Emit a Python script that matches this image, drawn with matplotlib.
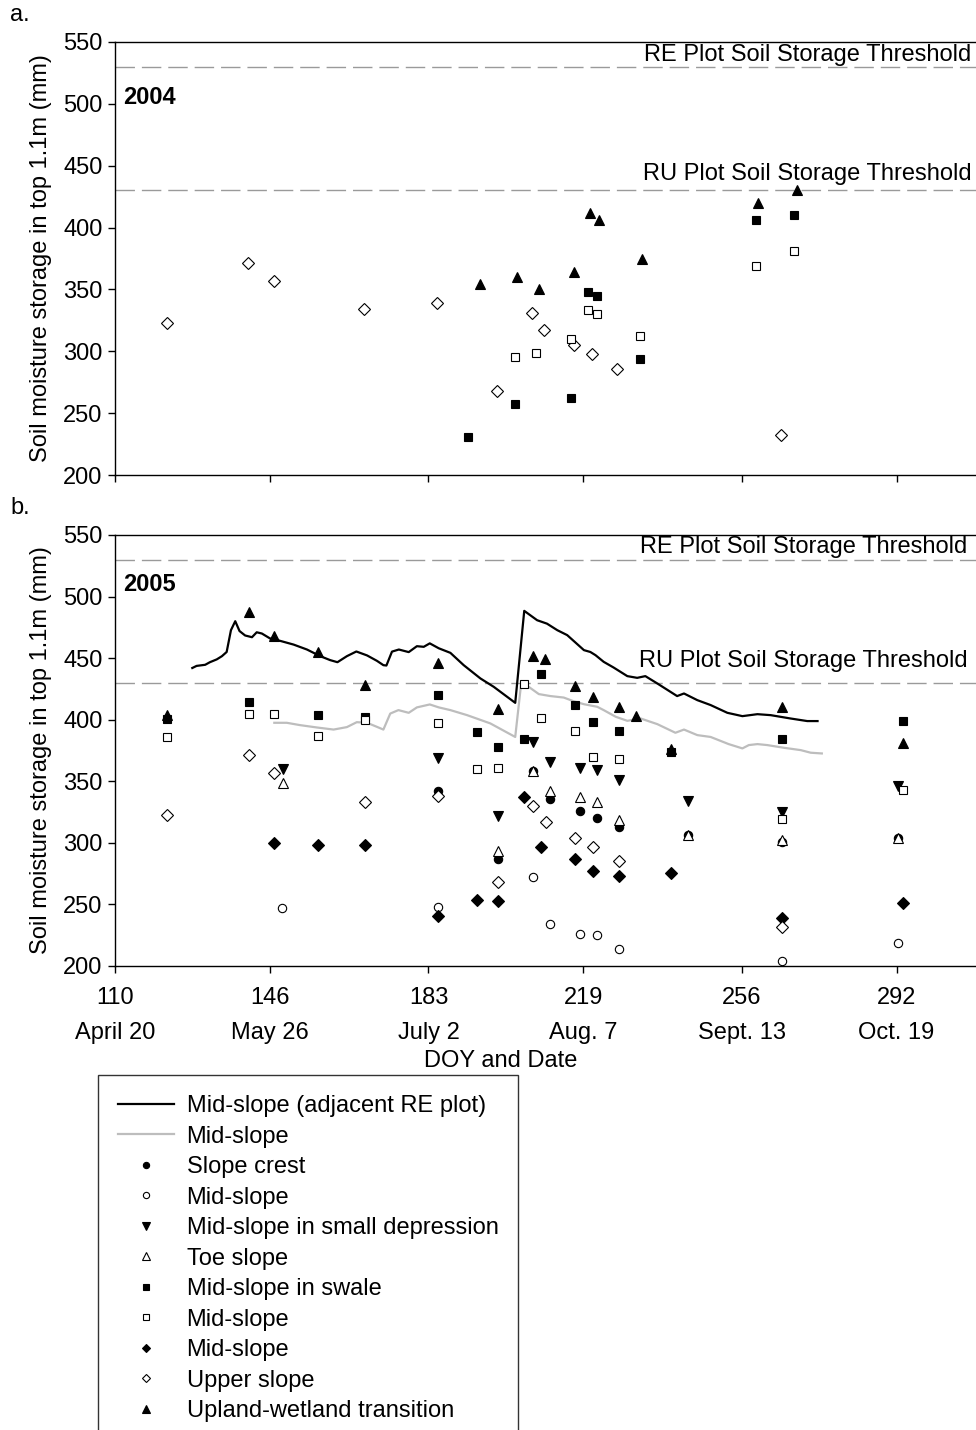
import matplotlib
matplotlib.use("Agg")
import matplotlib.pyplot as plt
from matplotlib.lines import Line2D

plt.rcParams["font.family"] = ["Liberation Sans", "DejaVu Sans"]
plt.rcParams["font.size"] = 17

# ---- 2004 (panel a) ----
doy04_upper = [122, 141, 147, 168, 185, 199, 207, 210, 217, 221, 227, 265]
sm04_upper = [323, 371, 357, 334, 339, 268, 331, 317, 305, 298, 286, 232]
doy04_trans = [195, 203.6, 208.7, 216.8, 220.7, 222.7, 232.8, 259.8, 268.8]
sm04_trans = [354, 360, 350, 364, 412, 406, 375, 420, 430]
doy04_swale = [192.2, 203.1, 216.1, 220.2, 222.2, 232.2, 259.2, 268.2]
sm04_swale = [231, 257, 262, 348, 345, 294, 406, 410]
doy04_midsq = [203.1, 208.1, 216.1, 220.2, 222.2, 232.2, 259.2, 268.2]
sm04_midsq = [295, 299, 310, 333, 330, 312, 369, 381]

# ---- 2005 (panel b) ----
doy05_crest = [185.2, 199.2, 207.3, 211.2, 218.2, 222.3, 227.4, 243.4, 265.4, 292.4]
sm05_crest = [342, 287, 358, 335.5, 326, 320.4, 313, 306, 301, 304]
doy05_midcirc = [149, 185.2, 207.3, 211.2, 218.2, 222.3, 227.4, 265.4, 292.3]
sm05_midcirc = [247, 248, 272, 234, 226, 225, 213.5, 204, 218.7]
doy05_depr = [149.1, 185.2, 199.2, 207.3, 211.2, 218.2, 222.3, 227.4, 243.4, 265.4, 292.3]
sm05_depr = [360, 369, 322, 382, 366, 361, 359, 351, 334, 325, 346]
doy05_toe = [149.1, 199.2, 207.3, 211.2, 218.2, 222.3, 227.4, 243.4, 265.4, 292.4]
sm05_toe = [349, 293, 358, 342, 337, 333, 318.5, 306, 302, 304]
doy05_swale = [122, 141.1, 157.2, 168.3, 185.2, 194.3, 199.2, 205.3, 209.3, 217.2,
               221.3, 227.4, 239.4, 265.4, 293.5]
sm05_swale = [400.5, 414, 404, 402, 420, 390, 378, 384, 437, 412, 398, 391, 374, 384, 399]
doy05_midsq = [122, 141.1, 147.1, 157.2, 168.3, 185.2, 194.3, 199.2, 205.3, 209.3,
               217.2, 221.3, 227.4, 265.4, 293.5]
sm05_midsq = [386, 405, 405, 387, 400, 397, 360, 361, 429, 401, 391, 370, 368, 319, 343]
doy05_middia = [147.1, 157.2, 168.3, 185.2, 194.3, 199.2, 205.3, 209.3, 217.2, 221.3,
                227.4, 239.4, 265.4, 293.5]
sm05_middia = [300, 298, 298.5, 241, 254, 252.5, 337, 297, 287, 277, 273, 275.5, 239, 251]
doy05_upper = [122, 141.1, 147.1, 168.3, 185.2, 199.2, 207.3, 210.3, 217.2, 221.3, 227.4, 265.4]
sm05_upper = [323, 371.5, 357, 333, 338, 268, 330, 316.6, 304, 297, 285, 231.4]
doy05_trans = [122, 141.1, 147.1, 157.2, 168.3, 185.2, 199.2, 207.3, 210.2, 217.2,
               221.3, 227.4, 231.4, 239.4, 265.4, 293.5]
sm05_trans = [404, 487.6, 468, 455, 428, 445.7, 408.6, 451.6, 449.4, 427, 418.6,
              410.5, 403, 376, 410.5, 381]

# continuous records
doy05_re = [128.0, 129.0, 131.0, 132.1, 133.7, 134.9, 136.0, 137.0, 138.0, 139.0,
            140.3, 141.9, 143.0, 144.2, 146.1, 148.5, 151.6, 154.7, 157.8, 160.1,
            161.8, 164.0, 166.2, 168.7, 171.0, 172.5, 173.2, 174.5, 176.1, 178.4,
            180.3, 181.9, 183.3, 185.4, 188.1, 191.2, 195.1, 198.2, 203.2, 205.3,
            208.3, 210.6, 213.0, 215.3, 219.2, 220.7, 221.9, 223.8, 226.1, 229.3,
            231.6, 233.5, 236.3, 240.9, 242.5, 245.6, 248.7, 252.6, 256.1, 259.6,
            262.7, 267.3, 271.2, 273.6]
sm05_re = [442, 443.7, 444.6, 446.7, 449, 451.6, 455, 472.7, 480, 472,
           468.4, 467, 471, 470, 466, 464, 461, 457, 451.6, 448.4,
           446.7, 451.6, 455.4, 452.2, 447.8, 444.3, 444, 455.3, 457, 454.9,
           459.7, 459.2, 462, 458, 454.3, 444.3, 433.5, 426.7, 413.7, 488.4,
           480.8, 478, 472.7, 468.7, 456.5, 455, 452.4, 447, 442.4, 435.4,
           434, 435.4, 429.4, 419.2, 421.3, 415.9, 411.9, 405.6, 402.9, 404.5,
           403.7, 401, 398.9, 398.9]
doy05_ru = [147.1, 150.0, 153.1, 157.0, 160.9, 164.0, 166.3, 168.7, 171.0, 172.5,
            174.1, 176.0, 178.4, 180.3, 183.3, 185.4, 188.1, 192.0, 197.4, 203.2,
            204.6, 206.3, 208.7, 211.4, 214.5, 216.8, 219.2, 222.3, 223.8, 226.6,
            229.3, 232.4, 236.3, 240.5, 242.5, 245.6, 248.7, 252.9, 256.1, 257.6,
            259.6, 261.9, 265.8, 269.7, 272.0, 274.6]
sm05_ru = [397.5, 397.5, 395.6, 393.7, 392, 394, 398, 397.5, 394.2, 392,
           405, 407.8, 405.6, 410, 412.4, 410, 407.8, 403.7, 397, 386,
           430, 426.8, 420.8, 419.2, 418, 415, 412.6, 410.5, 407.8, 402.4,
           399.1, 401, 396.4, 389.4, 392, 387.5, 386, 380.2, 376.7, 379.4,
           380.2, 379.4, 377.2, 375.3, 373.2, 372.6]

re_threshold = 530
ru_threshold = 430
xtick_doy = [110, 146, 183, 219, 256, 292]
xtick_dates = ["April 20", "May 26", "July 2", "Aug. 7", "Sept. 13", "Oct. 19"]

filled = dict(mfc="black", mec="black", mew=0.8, linestyle="none")
hollow = dict(mfc="white", mec="black", mew=0.8, linestyle="none")
st = {
    "crest": dict(marker="o", ms=6, **filled),
    "midcirc": dict(marker="o", ms=6, **hollow),
    "depr": dict(marker="v", ms=7.5, **filled),
    "toe": dict(marker="^", ms=7.5, **hollow),
    "swale": dict(marker="s", ms=6, **filled),
    "midsq": dict(marker="s", ms=6, **hollow),
    "middia": dict(marker="D", ms=6, **filled),
    "upper": dict(marker="D", ms=6, **hollow),
    "trans": dict(marker="^", ms=7.5, **filled),
}

fig = plt.figure(figsize=(9.76, 14.3), dpi=100)
ax_a = fig.add_axes([115 / 976, 1 - 475 / 1430, 861 / 976, 433 / 1430])
ax_b = fig.add_axes([115 / 976, 1 - 966 / 1430, 861 / 976, 431 / 1430])


def style_axes(ax):
    ax.set_xlim(110, 310.5)
    ax.set_ylim(200, 550)
    ax.set_yticks(range(200, 551, 50))
    ax.set_xticks(xtick_doy)
    ax.spines["right"].set_visible(False)
    for s in ax.spines.values():
        s.set_linewidth(1.0)
    ax.tick_params(direction="out", length=5, width=1, labelsize=17, pad=4)
    ax.set_ylabel("Soil moisture storage in top 1.1m (mm)", fontsize=17, labelpad=8)
    ax.axhline(re_threshold, color="#9a9a9a", lw=1.0, dashes=(14, 5), zorder=1)
    ax.axhline(ru_threshold, color="#9a9a9a", lw=1.0, dashes=(14, 5), zorder=1)


style_axes(ax_a)
style_axes(ax_b)
ax_a.set_xticklabels([])

ax_a.annotate("RE Plot Soil Storage Threshold", (0.995, re_threshold),
              xycoords=("axes fraction", "data"), xytext=(0, 0.5),
              textcoords="offset points", ha="right", va="bottom")
ax_a.annotate("RU Plot Soil Storage Threshold", (0.995, ru_threshold),
              xycoords=("axes fraction", "data"), xytext=(0, 4),
              textcoords="offset points", ha="right", va="bottom")
ax_b.annotate("RE Plot Soil Storage Threshold", (0.99, re_threshold),
              xycoords=("axes fraction", "data"), xytext=(0, 1),
              textcoords="offset points", ha="right", va="bottom")
ax_b.annotate("RU Plot Soil Storage Threshold", (0.99, ru_threshold),
              xycoords=("axes fraction", "data"), xytext=(0, 8),
              textcoords="offset points", ha="right", va="bottom")

ax_a.text(0.009, 0.871, "2004", transform=ax_a.transAxes, fontweight="bold", va="center")
ax_b.text(0.009, 0.884, "2005", transform=ax_b.transAxes, fontweight="bold", va="center")

# panel a
ax_a.plot(doy04_upper, sm04_upper, **st["upper"])
ax_a.plot(doy04_midsq, sm04_midsq, **st["midsq"])
ax_a.plot(doy04_swale, sm04_swale, **st["swale"])
ax_a.plot(doy04_trans, sm04_trans, **st["trans"])

# panel b
ax_b.plot(doy05_re, sm05_re, color="black", lw=1.6, zorder=2)
ax_b.plot(doy05_ru, sm05_ru, color="#bdbdbd", lw=1.6, zorder=2)
ax_b.plot(doy05_crest, sm05_crest, **st["crest"])
ax_b.plot(doy05_midcirc, sm05_midcirc, **st["midcirc"])
ax_b.plot(doy05_depr, sm05_depr, **st["depr"])
ax_b.plot(doy05_toe, sm05_toe, **st["toe"])
ax_b.plot(doy05_swale, sm05_swale, **st["swale"])
ax_b.plot(doy05_midsq, sm05_midsq, **st["midsq"])
ax_b.plot(doy05_middia, sm05_middia, **st["middia"])
ax_b.plot(doy05_upper, sm05_upper, **st["upper"])
ax_b.plot(doy05_trans, sm05_trans, **st["trans"])

ax_b.set_xticklabels([f"{d}\n{t}" for d, t in zip(xtick_doy, xtick_dates)],
                     linespacing=1.75)
ax_b.tick_params(axis="x", pad=10)
ax_b.set_xlabel("DOY and Date", fontsize=17, labelpad=2)
ax_b.xaxis.set_label_coords(0.448, -0.195)

fig.text(10 / 976, 1 - 15 / 1430, "a.", va="center", fontsize=17)
fig.text(10 / 976, 1 - 508 / 1430, "b.", va="center", fontsize=17)

handles = [
    Line2D([], [], color="black", lw=1.6),
    Line2D([], [], color="#bdbdbd", lw=1.6),
    Line2D([], [], **st["crest"]),
    Line2D([], [], **st["midcirc"]),
    Line2D([], [], **st["depr"]),
    Line2D([], [], **st["toe"]),
    Line2D([], [], **st["swale"]),
    Line2D([], [], **st["midsq"]),
    Line2D([], [], **st["middia"]),
    Line2D([], [], **st["upper"]),
    Line2D([], [], **st["trans"]),
]
labels = ["Mid-slope (adjacent RE plot)", "Mid-slope", "Slope crest", "Mid-slope",
          "Mid-slope in small depression", "Toe slope", "Mid-slope in swale",
          "Mid-slope", "Mid-slope", "Upper slope", "Upland-wetland transition"]
leg = fig.legend(handles, labels, loc="upper left",
                 bbox_to_anchor=(98 / 976, 1 - 1075 / 1430), borderaxespad=0,
                 fontsize=17, frameon=True, fancybox=False, edgecolor="black",
                 handlelength=2.35, handletextpad=0.55, labelspacing=0.36,
                 borderpad=0.85, markerscale=0.75)
leg.get_frame().set_linewidth(1.0)

fig.savefig("out.png", dpi=100)
